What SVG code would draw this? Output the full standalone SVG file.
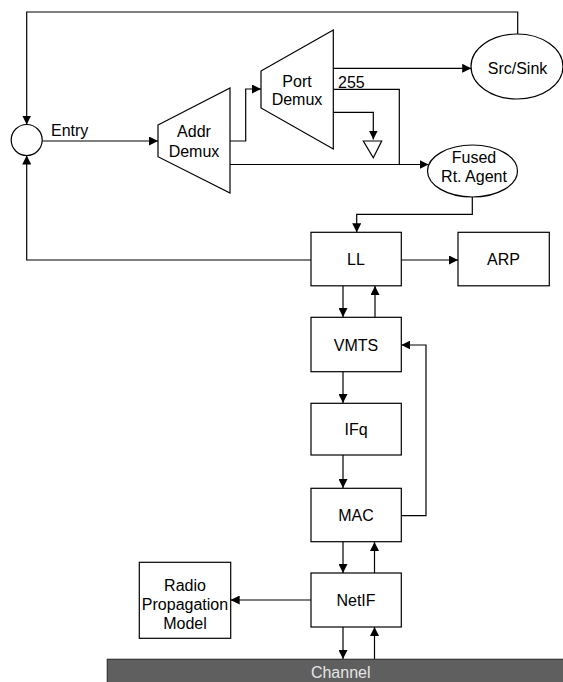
<svg xmlns="http://www.w3.org/2000/svg" width="563" height="682" viewBox="0 0 563 682">
<style>
text{font-family:"Liberation Sans",Arial,sans-serif;font-size:16px;fill:#000;text-anchor:middle}
.box{fill:#fff;stroke:#000;stroke-width:1.2}
.ln{fill:none;stroke:#000;stroke-width:1.2}
</style>
<defs>
<marker id="ah" viewBox="0 0 10 10" refX="10" refY="5" markerWidth="9" markerHeight="9" markerUnits="userSpaceOnUse" orient="auto">
<path d="M0,0 L10,5 L0,10 Z" fill="#000"/>
</marker>
</defs>
<rect width="563" height="682" fill="#fff"/>
<g id="connectors">
<path class="ln" d="M517.7,34 V12 H26.7 V124.5" marker-end="url(#ah)"/>
<path class="ln" d="M311,260 H26.7 V155.5" marker-end="url(#ah)"/>
<path class="ln" d="M42.2,141 H158" marker-end="url(#ah)"/>
<path class="ln" d="M230,141 H245.7 V89 H261" marker-end="url(#ah)"/>
<path class="ln" d="M230,164.5 H428.5" marker-end="url(#ah)"/>
<path class="ln" d="M333.3,68.3 H471.2" marker-end="url(#ah)"/>
<path class="ln" d="M333.3,89.3 H399.3 V164.5"/>
<path class="ln" d="M333.3,112.3 H373.3 V139.5" marker-end="url(#ah)"/>
<path class="ln" d="M472.3,197 V214.3 H356.7 V232.3" marker-end="url(#ah)"/>
<path class="ln" d="M401.3,260 H458" marker-end="url(#ah)"/>
<path class="ln" d="M343,286 V317" marker-end="url(#ah)"/>
<path class="ln" d="M375,317 V286" marker-end="url(#ah)"/>
<path class="ln" d="M343,372 V403" marker-end="url(#ah)"/>
<path class="ln" d="M343,455 V488" marker-end="url(#ah)"/>
<path class="ln" d="M401.3,515.7 H426 V345 H401.3" marker-end="url(#ah)"/>
<path class="ln" d="M343,542 V573" marker-end="url(#ah)"/>
<path class="ln" d="M374.5,573 V542" marker-end="url(#ah)"/>
<path class="ln" d="M311,600 H230.7" marker-end="url(#ah)"/>
<path class="ln" d="M343,627 V659" marker-end="url(#ah)"/>
<path class="ln" d="M374.5,659 V627" marker-end="url(#ah)"/>
</g>
<g id="entry">
<circle cx="26.7" cy="140" r="15.5" class="box"/>
<text x="51" y="135.5" style="text-anchor:start">Entry</text>
</g>
<g id="addr-demux">
<path class="box" d="M158,125 L230,88 L230,193 L158,156.7 Z"/>
<text x="194" y="136.7">Addr</text>
<text x="194" y="156.7">Demux</text>
</g>
<g id="port-demux">
<path class="box" d="M261,71 L333.3,30 L333.3,149 L261,108 Z"/>
<text x="297" y="86.7">Port</text>
<text x="297" y="105">Demux</text>
</g>
<g id="label-255">
<text x="338" y="87.5" style="text-anchor:start">255</text>
</g>
<g id="drop">
<path class="ln" d="M363.3,141 L381.7,141 L373.3,157.7 Z" fill="#fff"/>
</g>
<g id="src-sink">
<ellipse cx="517" cy="66.5" rx="46" ry="32.5" class="box"/>
<text x="517.5" y="74">Src/Sink</text>
</g>
<g id="fused">
<ellipse cx="472.5" cy="171" rx="45" ry="26" class="box"/>
<text x="474" y="163">Fused</text>
<text x="474" y="182">Rt. Agent</text>
</g>
<g id="ll">
<rect x="311" y="232.3" width="90.3" height="53.5" class="box"/>
<text x="356" y="265">LL</text>
</g>
<g id="arp">
<rect x="458" y="232.3" width="91.3" height="53.5" class="box"/>
<text x="503.5" y="265">ARP</text>
</g>
<g id="vmts">
<rect x="311" y="317.3" width="90.3" height="54.4" class="box"/>
<text x="356" y="350.5">VMTS</text>
</g>
<g id="ifq">
<rect x="311" y="403.3" width="90.3" height="51.7" class="box"/>
<text x="356" y="434.5">IFq</text>
</g>
<g id="mac">
<rect x="311" y="488.3" width="90.3" height="53.4" class="box"/>
<text x="356" y="520.5">MAC</text>
</g>
<g id="netif">
<rect x="311" y="573" width="90.3" height="54" class="box"/>
<text x="356" y="605.5">NetIF</text>
</g>
<g id="radio">
<rect x="139.3" y="562.3" width="91.4" height="76" class="box"/>
<text x="185" y="591">Radio</text>
<text x="185" y="610">Propagation</text>
<text x="185" y="629">Model</text>
</g>
<g id="channel">
<rect x="107.3" y="659.3" width="460" height="30" fill="#5f5f5f" stroke="#333" stroke-width="1.2"/>
<text x="340.7" y="677.5" style="fill:#e6e6e6">Channel</text>
</g>
</svg>
